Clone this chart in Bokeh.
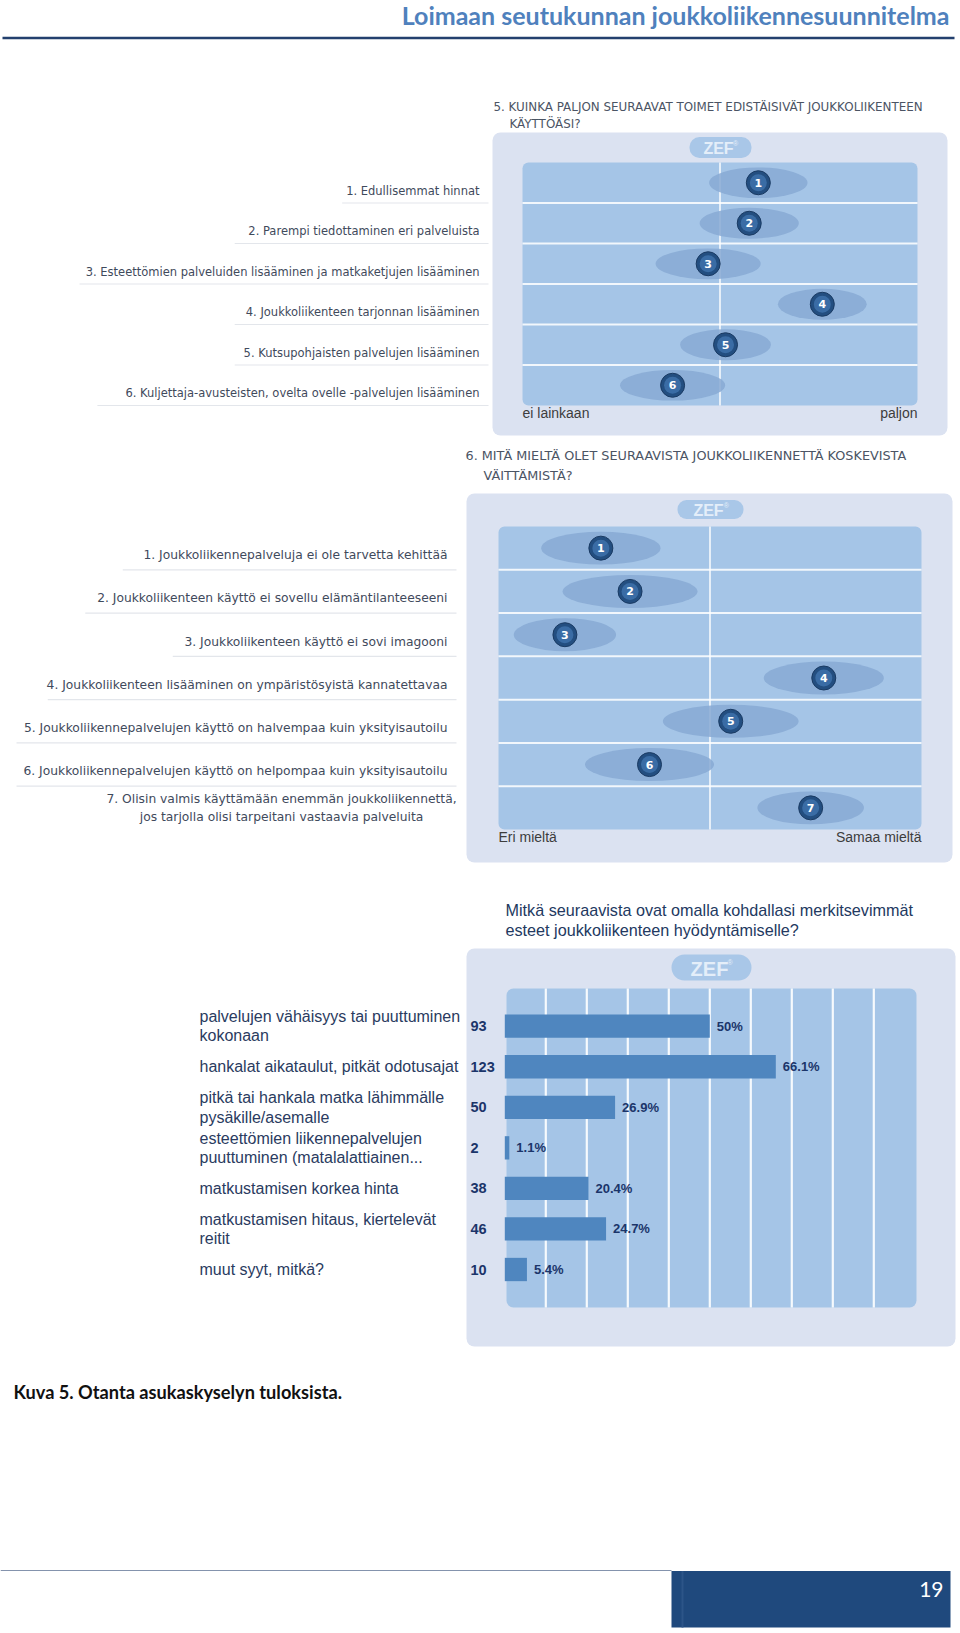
from bokeh.plotting import figure
from bokeh.models import Range1d, ColumnDataSource
from bokeh.core.properties import value
from bokeh.embed import file_html
from bokeh.resources import INLINE

# ---------------- data ----------------
page_title = "Loimaan seutukunnan joukkoliikennesuunnitelma"
caption = "Kuva 5. Otanta asukaskyselyn tuloksista."
page_number = "19"

q5_title = ["5. KUINKA PALJON SEURAAVAT TOIMET EDISTÄISIVÄT JOUKKOLIIKENTEEN", "KÄYTTÖÄSI?"]
q5_items = [
    "1. Edullisemmat hinnat",
    "2. Parempi tiedottaminen eri palveluista",
    "3. Esteettömien palveluiden lisääminen ja matkaketjujen lisääminen",
    "4. Joukkoliikenteen tarjonnan lisääminen",
    "5. Kutsupohjaisten palvelujen lisääminen",
    "6. Kuljettaja-avusteisten, ovelta ovelle -palvelujen lisääminen",
]
q5_mean = [59.7, 57.4, 47.0, 75.9, 51.4, 38.0]      # position on 0..100 scale
q5_spread = [24.9, 25.1, 26.6, 22.5, 23.0, 26.6]    # width of the spread ellipse
q5_ends = ["ei lainkaan", "paljon"]

q6_title = ["6. MITÄ MIELTÄ OLET SEURAAVISTA JOUKKOLIIKENNETTÄ KOSKEVISTA", "VÄITTÄMISTÄ?"]
q6_items = [
    "1. Joukkoliikennepalveluja ei ole tarvetta kehittää",
    "2. Joukkoliikenteen käyttö ei sovellu elämäntilanteeseeni",
    "3. Joukkoliikenteen käyttö ei sovi imagooni",
    "4. Joukkoliikenteen lisääminen on ympäristösyistä kannatettavaa",
    "5. Joukkoliikennepalvelujen käyttö on halvempaa kuin yksityisautoilu",
    "6. Joukkoliikennepalvelujen käyttö on helpompaa kuin yksityisautoilu",
    "7. Olisin valmis käyttämään enemmän joukkoliikennettä,\njos tarjolla olisi tarpeitani vastaavia palveluita",
]
q6_mean = [24.2, 31.1, 15.7, 76.9, 54.9, 35.7, 73.8]
q6_spread = [28.2, 31.9, 24.2, 28.4, 32.1, 30.5, 25.2]
q6_ends = ["Eri mieltä", "Samaa mieltä"]

q7_title = ["Mitkä seuraavista ovat omalla kohdallasi merkitsevimmät",
            "esteet joukkoliikenteen hyödyntämiselle?"]
q7_items = [
    "palvelujen vähäisyys tai puuttuminen\nkokonaan",
    "hankalat aikataulut, pitkät odotusajat",
    "pitkä tai hankala matka lähimmälle\npysäkille/asemalle",
    "esteettömien liikennepalvelujen\npuuttuminen (matalalattiainen...",
    "matkustamisen korkea hinta",
    "matkustamisen hitaus, kiertelevät\nreitit",
    "muut syyt, mitkä?",
]
q7_count = [93, 123, 50, 2, 38, 46, 10]
q7_pct = [50, 66.1, 26.9, 1.1, 20.4, 24.7, 5.4]
q7_grid = [10, 20, 30, 40, 50, 60, 70, 80, 90]

# ---------------- styles ----------------
PANEL = "#dbe2f1"
INNER = "#a5c5e7"
ELL = "#87a9d4"
PILL = "#a9c7e8"
PILL_TXT = "#e4eef9"
DOT_OUT = "#234e80"
DOT_IN = "#3d70a8"
LAB = "#3f4a5c"
TITLE_GRAY = "#4b5464"
ULINE = "#e3e6eb"
NAVY = "#23395f"
BAR = "#4f86bf"
VERD = value("DejaVu Sans")
ARIAL = value("Liberation Sans")
LATO = value("Lato")

# the figure's frame covers page pixels FX0..FX1 x FY0..FY1
FX0, FX1 = 0, 956
FY0, FY1 = 0, 1629

p = figure(width=FX1 - FX0, height=FY1 - FY0, x_range=Range1d(FX0, FX1), y_range=Range1d(FY1, FY0),
           x_axis_type=None, y_axis_type=None, output_backend="svg", toolbar_location=None,
           min_border=0, outline_line_color=None,
           background_fill_color="white", border_fill_color="white")


def add_x(name, v0, px0, v1, px1):
    k = (px1 - px0) / (v1 - v0)
    p.extra_x_ranges[name] = Range1d(v0 + (FX0 - px0) / k, v0 + (FX1 - px0) / k)


def add_y(name, v0, py0, v1, py1):
    k = (py1 - py0) / (v1 - v0)
    p.extra_y_ranges[name] = Range1d(v0 + (FY1 - py0) / k, v0 + (FY0 - py0) / k)


def txt(x, y, s, size, color, font, align="left", style="normal", baseline="middle", **kw):
    p.text(x=[x], y=[y], text=[s], text_font=font, text_font_size=value(size),
           text_color=color, text_align=align, text_baseline=baseline,
           text_font_style=style, **kw)


def pill(cx, cy, w, h, size):
    p.quad(left=[cx - w / 2], right=[cx + w / 2], top=[cy - h / 2], bottom=[cy + h / 2],
           fill_color=PILL, line_color=None, border_radius=int(h // 2))
    txt(cx - 2, cy + 1, "ZEF", size, PILL_TXT, ARIAL, align="center", style="bold")
    txt(cx + w * 0.2, cy - h * 0.2, "®", "7px", PILL_TXT, ARIAL, align="left")


# ---------------- header / footer ----------------
txt(949, 14, page_title, "25px", "#4f81bd", LATO, align="right", style="bold")
p.segment(x0=[2], x1=[954], y0=[37.5], y1=[37.5], line_color="#23406e", line_width=2.5)
txt(13, 1391, caption, "18.2px", "#111111", LATO, style="bold")
p.segment(x0=[0], x1=[671], y0=[1570], y1=[1570], line_color="#8493ad", line_width=1)
p.quad(left=[671], right=[950], top=[1570.5], bottom=[1627], fill_color="#1f497d", line_color=None)
p.quad(left=[681], right=[683], top=[1570.5], bottom=[1627], fill_color="#2c5588", line_color=None)
txt(943, 1589, page_number, "21px", "white", LATO, align="right")


# ---------------- ZEF position charts ----------------
def zef_chart(key, title, title_xy, title_size, items, mean, spread, ends,
              outer, inner, pill_geo, lab_right, lab_size, cw, lab_dy, multi_x):
    ox0, oy0, ox1, oy1 = outer
    ix0, iy0, ix1, iy1 = inner
    n = len(items)
    rh = (iy1 - iy0) / n
    add_x(key + "x", 0, ix0, 100, ix1)
    add_y(key + "y", 0, iy0 + rh / 2, 1, iy0 + rh * 1.5)
    xr, yr = key + "x", key + "y"

    (tx1, ty1), (tx2, ty2) = title_xy
    txt(tx1, ty1, title[0], title_size, TITLE_GRAY, VERD)
    txt(tx2, ty2, title[1], title_size, TITLE_GRAY, VERD)

    p.quad(left=[ox0], right=[ox1], top=[oy0], bottom=[oy1], fill_color=PANEL,
           line_color=None, border_radius=8)
    pill(*pill_geo)
    p.quad(left=[ix0], right=[ix1], top=[iy0], bottom=[iy1], fill_color=INNER,
           line_color=None, border_radius=6)

    idx = list(range(n))
    seps = [i + 0.5 for i in idx[:-1]]
    p.segment(x0=[ix0] * len(seps), x1=[ix1] * len(seps), y0=seps, y1=seps,
              y_range_name=yr, line_color="white", line_width=2, line_alpha=0.85)
    p.segment(x0=[50], x1=[50], y0=[iy0], y1=[iy1], x_range_name=xr,
              line_color="white", line_width=1.6, line_alpha=0.9)

    src = ColumnDataSource(dict(m=mean, s=spread, i=idx, num=[str(i + 1) for i in idx]))
    p.ellipse(x="m", y="i", width="s", height=0.76, source=src, x_range_name=xr, y_range_name=yr,
              fill_color=ELL, fill_alpha=0.85, line_color=None)
    p.scatter(x="m", y="i", size=24, source=src, x_range_name=xr, y_range_name=yr,
              fill_color=DOT_OUT, line_color="#1a3a62", line_width=1)
    p.scatter(x="m", y="i", size=17, source=src, x_range_name=xr, y_range_name=yr,
              fill_color=DOT_IN, line_color=None, fill_alpha=0.9)
    p.text(x="m", y="i", text="num", source=src, x_range_name=xr, y_range_name=yr,
           text_font=VERD, text_font_size=value("11px"), text_font_style="bold",
           text_color="white", text_align="center", text_baseline="middle")

    # left labels
    single = [(i, s) for i, s in enumerate(items) if "\n" not in s]
    p.text(x=[lab_right] * len(single), y=[i + lab_dy for i, _ in single],
           text=[s for _, s in single], y_range_name=yr, text_font=VERD,
           text_font_size=value(lab_size), text_color=LAB, text_align="right",
           text_baseline="middle")
    ul = [(i, s) for i, s in single]
    p.segment(x0=[lab_right - cw * len(s) - 6 for _, s in ul], x1=[lab_right + 9] * len(ul),
              y0=[i + 0.5 for i, _ in ul], y1=[i + 0.5 for i, _ in ul],
              y_range_name=yr, line_color=ULINE, line_width=1.2)
    for i, s in enumerate(items):
        if "\n" in s:
            lines = s.split("\n")
            k = len(lines)
            p.text(x=[multi_x] * k, y=[i] * k, text=lines, y_range_name=yr,
                   y_offset=[(j - (k - 1) / 2) * 17.5 for j in range(k)],
                   text_font=VERD, text_font_size=value(lab_size), text_color=LAB,
                   text_align="center", text_baseline="middle")

    txt(ix0, iy1 + 7, ends[0], "14px", "#3d3d3d", ARIAL)
    txt(ix1, iy1 + 7, ends[1], "14px", "#3d3d3d", ARIAL, align="right")


zef_chart("q5", q5_title, [(493, 106), (509, 123)], "11.9px", q5_items, q5_mean, q5_spread, q5_ends,
          outer=(492, 132, 947, 435), inner=(522, 162, 917, 405),
          pill_geo=(720, 147, 62, 21, "16px"), lab_right=479, lab_size="11.5px", cw=5.97,
          lab_dy=0.2, multi_x=300)

zef_chart("q6", q6_title, [(465, 455), (483, 475)], "12.8px", q6_items, q6_mean, q6_spread, q6_ends,
          outer=(466, 493, 952, 862), inner=(498, 526, 921, 829),
          pill_geo=(710, 509, 66, 19, "16px"), lab_right=447, lab_size="12.3px", cw=6.25,
          lab_dy=0.16, multi_x=281)

# ---------------- bar chart ----------------
txt(505, 909, q7_title[0], "16.2px", NAVY, ARIAL)
txt(505, 929, q7_title[1], "16.2px", NAVY, ARIAL)
p.quad(left=[466], right=[955], top=[948], bottom=[1346], fill_color=PANEL, line_color=None,
       border_radius=8)
pill(711, 967, 80, 26, "20px")
p.quad(left=[506], right=[916], top=[988], bottom=[1307], fill_color=INNER, line_color=None,
       border_radius=7)

add_x("q7x", 0, 504.3, 100, 914.3)
add_y("q7y", 0, 1025.7, 1, 1066.25)
n7 = len(q7_items)
rows7 = list(range(n7))
p.segment(x0=q7_grid, x1=q7_grid, y0=[988] * len(q7_grid), y1=[1307] * len(q7_grid),
          x_range_name="q7x", line_color="white", line_width=2.2, line_alpha=0.9)
src7 = ColumnDataSource(dict(i=rows7, pct=q7_pct, cnt=[str(c) for c in q7_count],
                             plab=[f"{v:g}%" for v in q7_pct], cx=[470] * n7))
p.hbar(y="i", left=0, right="pct", height=0.575, source=src7, x_range_name="q7x",
       y_range_name="q7y", fill_color=BAR, line_color=None)
p.text(x="pct", y="i", text="plab", source=src7, x_range_name="q7x", y_range_name="q7y",
       x_offset=7, text_font=ARIAL, text_font_size=value("13px"), text_font_style="bold",
       text_color="#1b356a", text_baseline="middle")
p.text(x="cx", y="i", text="cnt", source=src7, y_range_name="q7y",
       text_font=ARIAL, text_font_size=value("14.5px"), text_font_style="bold",
       text_color="#1b356a", text_baseline="middle")
for i, s in enumerate(q7_items):
    lines = s.split("\n")
    k = len(lines)
    p.text(x=[199] * k, y=[i] * k, text=lines, y_range_name="q7y",
           y_offset=[(j - (k - 1) / 2) * 19.5 for j in range(k)],
           text_font=ARIAL, text_font_size=value("16px"), text_color="#2a3b60",
           text_baseline="middle")

open("out.html", "w").write(file_html(p, INLINE))
